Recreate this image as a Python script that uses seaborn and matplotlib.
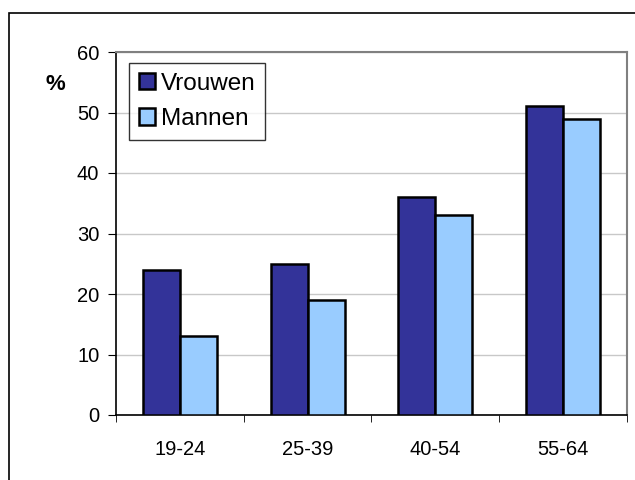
import numpy as np
import pandas as pd
import seaborn as sns
import matplotlib.pyplot as plt
from matplotlib.patches import Rectangle

# data
ageGroups = ['19-24', '25-39', '40-54', '55-64']
vrouwen = [24, 25, 36, 51]
mannen = [13, 19, 33, 49]

df = pd.DataFrame({
    'leeftijd': ageGroups * 2,
    'percentage': vrouwen + mannen,
    'geslacht': ['Vrouwen'] * len(ageGroups) + ['Mannen'] * len(ageGroups),
})

sns.set_style('white')
plt.rcParams['font.family'] = ['Liberation Sans', 'DejaVu Sans']
plt.rcParams['text.color'] = 'black'
plt.rcParams['xtick.color'] = 'black'
plt.rcParams['ytick.color'] = 'black'

fig = plt.figure(figsize=(6.35, 4.8), dpi=100)
ax = fig.add_axes([116 / 635, 1 - 415 / 480, (627 - 116) / 635, (415 - 52) / 480])

# outer frame of the chart area
fig.patches.append(Rectangle((9 / 635, -0.1), 1.2, 1 - 13 / 480 + 0.1,
                             transform=fig.transFigure, fill=False,
                             edgecolor='black', linewidth=1.2, zorder=0))

sns.barplot(data=df, x='leeftijd', y='percentage', hue='geslacht',
            palette=['#333399', '#99CCFF'], edgecolor='black', linewidth=1.8,
            width=0.58, saturation=1, ax=ax, zorder=3)

ax.set_ylim(0, 60)
ax.set_xlim(-0.5, 3.5)
ax.set_yticks(np.arange(0, 61, 10))
ax.yaxis.grid(True, color='#c8c8c8', linewidth=1)
ax.set_axisbelow(True)
ax.set_xlabel('')
ax.set_ylabel('')

# category boundary ticks on x axis
ax.set_xticks(np.arange(-0.5, 4, 1), minor=True)
ax.tick_params(axis='x', which='major', length=0, labelsize=14.5, pad=18)
ax.tick_params(axis='x', which='minor', length=5, direction='out', color='black', bottom=True)
ax.tick_params(axis='y', length=6, direction='out', color='black', left=True, labelsize=14.5, pad=6)

for side in ['left', 'bottom']:
    ax.spines[side].set_color('black')
    ax.spines[side].set_linewidth(1.2)
for side in ['top', 'right']:
    ax.spines[side].set_color('#808080')
    ax.spines[side].set_linewidth(1.5)

fig.text(55 / 635, 1 - 85 / 480, '%', fontsize=16, fontweight='bold', ha='center', va='center')

leg = ax.legend(loc='upper left', bbox_to_anchor=(13 / 511, 1 - 11 / 363), fontsize=17.5,
                frameon=True, fancybox=False, edgecolor='black', handlelength=0.65,
                handleheight=0.65, handletextpad=0.25, borderpad=0.4, labelspacing=0.55,
                borderaxespad=0)
leg.get_frame().set_linewidth(1)

fig.savefig('out.png', dpi=100, facecolor='white')
